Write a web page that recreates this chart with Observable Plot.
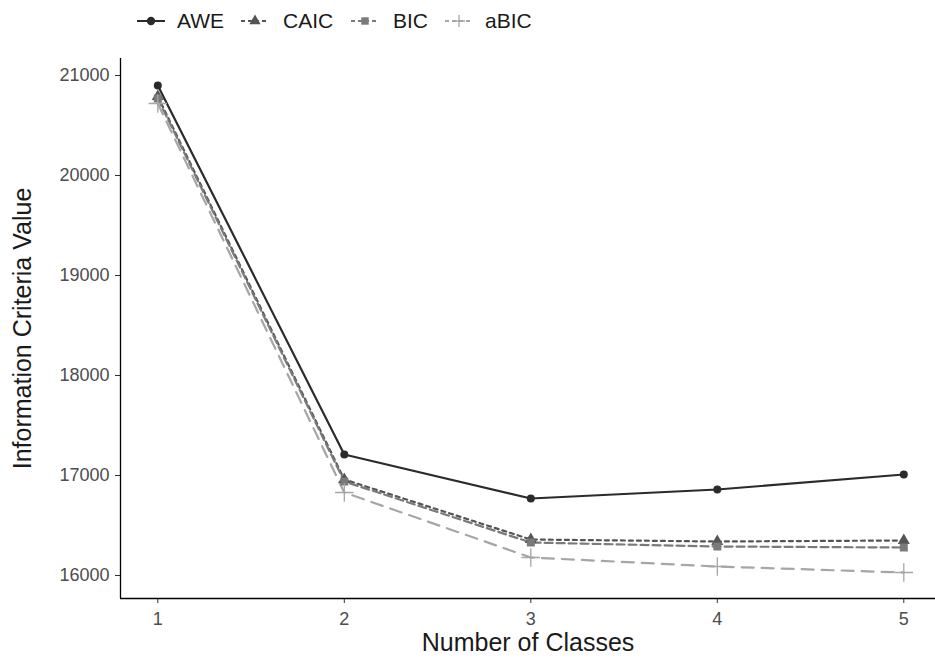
<!DOCTYPE html>
<html><head><meta charset="utf-8">
<script src="https://cdn.jsdelivr.net/npm/d3@7"></script>
<script src="https://cdn.jsdelivr.net/npm/@observablehq/plot@0.6"></script>
<style>
body{margin:0;background:#fff;font-family:"Liberation Sans",Arial,Helvetica,sans-serif;}
#legend{height:40px;position:relative;width:935px;}
.key{position:absolute;top:11px;}
.lab{position:absolute;top:9px;font-size:21px;color:#1a1a1a;line-height:24px;}
</style></head><body><div id="legend"></div><div id="chart"></div>
<script>
const classes = [1, 2, 3, 4, 5];
const criteria = ["AWE", "CAIC", "BIC", "aBIC"];
const aweValues  = [20900, 17210, 16770, 16860, 17010];
const caicValues = [20790, 16960, 16360, 16340, 16350];
const bicValues  = [20770, 16940, 16330, 16290, 16280];
const abicValues = [20720, 16830, 16180, 16090, 16030];
const yTicks = [16000, 17000, 18000, 19000, 20000, 21000];

const seriesValues = {AWE: aweValues, CAIC: caicValues, BIC: bicValues, aBIC: abicValues};
const colors = {AWE: "#2b2b2b", CAIC: "#555555", BIC: "#7a7a7a", aBIC: "#a6a6a6"};
const dashes = {AWE: "none", CAIC: "4,4", BIC: "8,4", aBIC: "12,8"};
const symbols = {AWE: "circle", CAIC: "triangle", BIC: "square", aBIC: "plus"};

const rows = criteria.flatMap(c => classes.map((k, i) => ({criterion: c, k, value: seriesValues[c][i]})));

const marks = [];
for (const c of criteria) {
  const d = rows.filter(r => r.criterion === c);
  marks.push(Plot.line(d, {x: "k", y: "value", stroke: colors[c], strokeWidth: 2.2, strokeDasharray: dashes[c]}));
}
for (const c of criteria) {
  const d = rows.filter(r => r.criterion === c);
  if (c === "aBIC") {
    marks.push(Plot.dot(d, {x: "k", y: "value", symbol: "plus", stroke: colors[c], r: 6, strokeWidth: 1.3}));
  } else {
    marks.push(Plot.dot(d, {x: "k", y: "value", symbol: symbols[c], fill: colors[c], stroke: "none", r: c === "AWE" ? 4 : 4.5}));
  }
}
marks.push(Plot.axisY(yTicks, {tickSize: 5, tickPadding: 6, fontSize: 18, fill: "#4d4d4d", stroke: "#333", label: null, tickFormat: d3.format("d")}));
marks.push(Plot.axisX(classes, {tickSize: 5, tickPadding: 9, fontSize: 18, fill: "#4d4d4d", stroke: "#333", label: null, tickFormat: d3.format("d")}));
marks.push(Plot.ruleX([0.8], {stroke: "#000", strokeWidth: 1.3}));
marks.push(Plot.ruleY([15770], {stroke: "#000", strokeWidth: 1.3}));
marks.push(Plot.text(["Information Criteria Value"], {frameAnchor: "left", textAnchor: "middle", rotate: -90, dx: -98, fontSize: 25, fill: "#1a1a1a"}));
marks.push(Plot.text(["Number of Classes"], {frameAnchor: "bottom", textAnchor: "middle", dy: 52, fontSize: 25, fill: "#1a1a1a"}));

const chart = Plot.plot({
  width: 935, height: 623,
  marginLeft: 120, marginRight: 0, marginTop: 18, marginBottom: 65,
  x: {domain: [0.8, 5.17], axis: null},
  y: {domain: [15770, 21170], axis: null},
  style: {fontFamily: '"Liberation Sans", Arial, sans-serif', background: "#fff", overflow: "visible"},
  marks
});
document.getElementById("chart").appendChild(chart);

// legend
const legend = document.getElementById("legend");
const keyX = [137, 241, 351, 445];
const labX = [177, 283, 393, 485];
criteria.forEach((c, i) => {
  const svg = d3.create("svg").attr("class", "key").attr("width", 28).attr("height", 20).style("left", keyX[i] + "px");
  svg.append("line").attr("x1", 0).attr("x2", 28).attr("y1", 10).attr("y2", 10)
    .attr("stroke", colors[c]).attr("stroke-width", 2).attr("stroke-dasharray", c === "AWE" ? null : "4,3");
  const sym = {circle: d3.symbolCircle, triangle: d3.symbolTriangle, square: d3.symbolSquare}[symbols[c]];
  if (c === "aBIC") {
    svg.append("path").attr("d", "M14,4V16M8,10H20").attr("stroke", colors[c]).attr("stroke-width", 1.3).attr("fill", "none");
  } else {
    svg.append("path").attr("transform", "translate(14,10)").attr("d", d3.symbol(sym, 55)()).attr("fill", colors[c]);
  }
  legend.appendChild(svg.node());
  const t = document.createElement("span");
  t.className = "lab"; t.style.left = labX[i] + "px"; t.textContent = c;
  legend.appendChild(t);
});
</script>
</body></html>
